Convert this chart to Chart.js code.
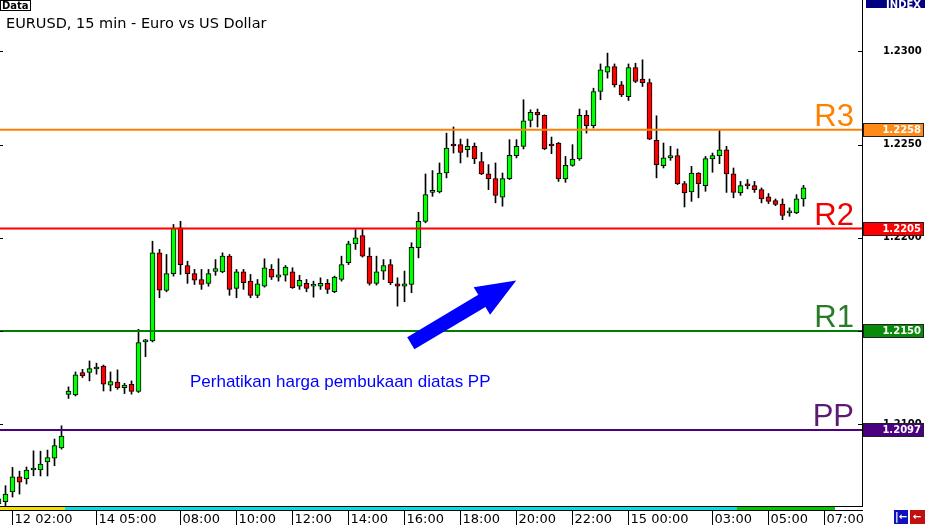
<!DOCTYPE html>
<html>
<head>
<meta charset="utf-8">
<script src="https://cdn.jsdelivr.net/npm/chart.js@4.4.0/dist/chart.umd.min.js"></script>
<style>
    html, body { margin: 0; padding: 0; background: #fff; }
    #wrap { width: 925px; height: 525px; position: relative; }
</style>
</head>
<body>
<div id="wrap"><canvas id="chart" width="925" height="525"></canvas></div>
<script>
// EURUSD 15 min candles, one entry per bar (index 0 is the cut-off bar at the left edge)
const opens = [
    1.20573, 1.20585, 1.20637, 1.20719, 1.20707, 1.20755, 1.20755, 1.20798, 1.20819, 1.20873,
    1.21160, 1.21158, 1.21278, 1.21278, 1.21297, 1.21313, 1.21210, 1.21227, 1.21197, 1.21215,
    1.21176, 1.21442, 1.21447, 1.21920, 1.21718, 1.21808, 1.22054, 1.21852, 1.21808, 1.21777,
    1.21756, 1.21820, 1.21818, 1.21902, 1.21729, 1.21818, 1.21768, 1.21692, 1.21741, 1.21831,
    1.21790, 1.21800, 1.21818, 1.21741, 1.21756, 1.21741, 1.21741, 1.21756, 1.21711, 1.21777,
    1.21867, 1.21968, 1.22013, 1.21902, 1.21756, 1.21822, 1.21857, 1.21754, 1.21741, 1.21750,
    1.21947, 1.22089, 1.22244, 1.22247, 1.22348, 1.22494, 1.22500, 1.22473, 1.22491, 1.22410,
    1.22343, 1.22318, 1.22218, 1.22318, 1.22441, 1.22491, 1.22630, 1.22673, 1.22657, 1.22494,
    1.22509, 1.22316, 1.22389, 1.22423, 1.22657, 1.22602, 1.22785, 1.22889, 1.22919, 1.22821,
    1.22758, 1.22914, 1.22852, 1.22833, 1.22523, 1.22387, 1.22429, 1.22441, 1.22291, 1.22247,
    1.22348, 1.22280, 1.22423, 1.22441, 1.22473, 1.22343, 1.22241, 1.22280, 1.22280, 1.22259,
    1.22220, 1.22200, 1.22182, 1.22134, 1.22134, 1.22209
];
const highs = [
    1.20626, 1.20671, 1.20769, 1.20749, 1.20771, 1.20858, 1.20856, 1.20862, 1.20921, 1.20992,
    1.21201, 1.21281, 1.21295, 1.21340, 1.21328, 1.21318, 1.21281, 1.21292, 1.21220, 1.21233,
    1.21510, 1.21456, 1.21982, 1.21938, 1.21911, 1.22072, 1.22089, 1.21875, 1.21831, 1.21831,
    1.21831, 1.21884, 1.21920, 1.21911, 1.21831, 1.21831, 1.21804, 1.21777, 1.21888, 1.21857,
    1.21888, 1.21852, 1.21840, 1.21799, 1.21777, 1.21768, 1.21786, 1.21777, 1.21795, 1.21902,
    1.21982, 1.22045, 1.22045, 1.21947, 1.21902, 1.21884, 1.21884, 1.21786, 1.21822, 1.21974,
    1.22137, 1.22343, 1.22361, 1.22402, 1.22562, 1.22595, 1.22530, 1.22530, 1.22509, 1.22459,
    1.22393, 1.22402, 1.22348, 1.22527, 1.22527, 1.22741, 1.22687, 1.22691, 1.22660, 1.22541,
    1.22512, 1.22437, 1.22500, 1.22691, 1.22683, 1.22803, 1.22933, 1.22991, 1.22933, 1.22839,
    1.22933, 1.22937, 1.22955, 1.22852, 1.22655, 1.22509, 1.22491, 1.22477, 1.22303, 1.22384,
    1.22350, 1.22437, 1.22455, 1.22576, 1.22491, 1.22375, 1.22303, 1.22313, 1.22303, 1.22268,
    1.22238, 1.22209, 1.22209, 1.22161, 1.22232, 1.22282
];
const lows = [
    1.20562, 1.20564, 1.20610, 1.20626, 1.20680, 1.20724, 1.20723, 1.20723, 1.20778, 1.20867,
    1.21139, 1.21152, 1.21251, 1.21233, 1.21269, 1.21179, 1.21179, 1.21188, 1.21165, 1.21162,
    1.21171, 1.21363, 1.21442, 1.21679, 1.21711, 1.21795, 1.21804, 1.21756, 1.21750, 1.21724,
    1.21741, 1.21799, 1.21813, 1.21692, 1.21679, 1.21724, 1.21679, 1.21679, 1.21736, 1.21777,
    1.21768, 1.21768, 1.21729, 1.21724, 1.21711, 1.21682, 1.21724, 1.21702, 1.21706, 1.21768,
    1.21857, 1.21938, 1.21897, 1.21747, 1.21747, 1.21777, 1.21750, 1.21634, 1.21658, 1.21706,
    1.21893, 1.22081, 1.22223, 1.22241, 1.22322, 1.22455, 1.22402, 1.22434, 1.22398, 1.22339,
    1.22259, 1.22188, 1.22170, 1.22313, 1.22429, 1.22477, 1.22595, 1.22595, 1.22473, 1.22452,
    1.22303, 1.22298, 1.22384, 1.22416, 1.22562, 1.22589, 1.22741, 1.22857, 1.22809, 1.22758,
    1.22737, 1.22833, 1.22812, 1.22527, 1.22322, 1.22375, 1.22416, 1.22286, 1.22166, 1.22196,
    1.22215, 1.22250, 1.22352, 1.22398, 1.22244, 1.22215, 1.22228, 1.22263, 1.22244, 1.22188,
    1.22184, 1.22173, 1.22098, 1.22116, 1.22130, 1.22170
];
const closes = [
    1.20600, 1.20626, 1.20719, 1.20690, 1.20755, 1.20760, 1.20787, 1.20822, 1.20886, 1.20937,
    1.21179, 1.21265, 1.21260, 1.21299, 1.21298, 1.21215, 1.21230, 1.21197, 1.21211, 1.21176,
    1.21438, 1.21443, 1.21920, 1.21720, 1.21808, 1.22052, 1.21857, 1.21808, 1.21773, 1.21750,
    1.21808, 1.21836, 1.21902, 1.21724, 1.21818, 1.21760, 1.21692, 1.21754, 1.21840, 1.21790,
    1.21802, 1.21843, 1.21733, 1.21772, 1.21729, 1.21742, 1.21756, 1.21724, 1.21790, 1.21857,
    1.21968, 1.22000, 1.21902, 1.21756, 1.21818, 1.21852, 1.21760, 1.21741, 1.21754, 1.21950,
    1.22089, 1.22232, 1.22247, 1.22348, 1.22482, 1.22493, 1.22459, 1.22491, 1.22423, 1.22343,
    1.22318, 1.22228, 1.22318, 1.22443, 1.22491, 1.22628, 1.22673, 1.22659, 1.22478, 1.22493,
    1.22316, 1.22389, 1.22423, 1.22657, 1.22602, 1.22785, 1.22901, 1.22919, 1.22821, 1.22767,
    1.22914, 1.22839, 1.22833, 1.22530, 1.22393, 1.22429, 1.22441, 1.22291, 1.22241, 1.22348,
    1.22291, 1.22425, 1.22441, 1.22473, 1.22343, 1.22244, 1.22280, 1.22279, 1.22259, 1.22209,
    1.22196, 1.22179, 1.22120, 1.22136, 1.22209, 1.22268
];

// pivot levels drawn as horizontal lines
const pivotNames = ["R3", "R2", "R1", "PP"];
const pivotLevels = [1.2258, 1.2205, 1.2150, 1.2097];

// bottom time axis: bar index of each separator and its text
const xTickIdx = [2, 14, 26, 34, 42, 50, 58, 66, 74, 82, 90, 102, 110, 118];
const xTickLabels = ["12 02:00", "14 05:00", "08:00", "10:00", "12:00", "14:00", "16:00",
    "18:00", "20:00", "22:00", "15 00:00", "03:00", "05:00", "07:00"];

// session strip under the plot: start/end bar index and colour
const sessionStart = [-1, 9.5, 105.5];
const sessionEnd = [9.5, 105.5, 119.5];

// annotation arrow (bar index, price)
const arrowFrom = [58.9, 1.21435];
const arrowTo = [73.96, 1.21772];

const yMin = 1.20562;
const yMax = 1.23276;
const xMin = 0.2143;
const xMax = 123.357;

const pivotLine = ["#ff8000", "#ff0000", "#008000", "#4b0082"];
const pivotText = ["#ff8000", "#f00000", "#2a7a2a", "#5c1a70"];
const pivotBox = ["#ff8c1a", "#ff0000", "#0a8a0a", "#4b0082"];
const sessionColor = ["#f0e000", "#00e0e8", "#00c800"];
const UP = "#00ff00";
const DOWN = "#ff0000";

const bodies = opens.map((o, i) => ({ x: i, y: [o, closes[i]] }));
const wicks = highs.map((h, i) => ({ x: i, y: [lows[i], h] }));

const datasets = [
    {
        type: "bar",
        data: bodies,
        backgroundColor: opens.map((o, i) => closes[i] >= o ? UP : DOWN),
        borderColor: "#000",
        borderWidth: 1,
        borderSkipped: false,
        barThickness: 5,
        minBarLength: 2,
        grouped: false,
        order: 1
    },
    {
        type: "bar",
        data: wicks,
        backgroundColor: "#000",
        borderWidth: 0,
        barThickness: 1,
        grouped: false,
        order: 2
    }
];

pivotLevels.forEach((lvl, k) => {
    datasets.push({
        type: "line",
        data: [{ x: xMin, y: lvl }, { x: xMax, y: lvl }],
        borderColor: pivotLine[k],
        borderWidth: 2,
        pointRadius: 0,
        order: 0
    });
});

function isMajor(v) {
    const n = v * 200;
    return Math.abs(n - Math.round(n)) < 1e-6;
}

const overlay = {
    id: "overlay",
    afterDraw(chart) {
        const { ctx, chartArea: a, scales: { x, y } } = chart;
        ctx.save();

        // small price ticks on both sides of the plot
        ctx.strokeStyle = "#000";
        ctx.lineWidth = 1;
        ctx.beginPath();
        y.ticks.forEach(t => {
            const py = Math.round(y.getPixelForValue(t.value)) + 0.5;
            ctx.moveTo(a.right - 4, py);
            ctx.lineTo(a.right, py);
            ctx.moveTo(a.left, py);
            ctx.lineTo(a.left + 3, py);
        });
        ctx.stroke();

        // bottom frame and session strip
        const b = Math.round(a.bottom);
        ctx.fillStyle = "#000";
        ctx.fillRect(0, b, a.right + 1, 1);
        sessionStart.forEach((s, k) => {
            const x0 = Math.max(0, Math.round(x.getPixelForValue(s)));
            const x1 = Math.round(x.getPixelForValue(sessionEnd[k]));
            ctx.fillStyle = sessionColor[k];
            ctx.fillRect(x0, b + 1, x1 - x0, 3);
        });
        ctx.fillStyle = "#000";
        ctx.fillRect(0, b + 4, a.right + 1, 1);

        // time labels
        ctx.font = "13px 'DejaVu Sans'";
        ctx.textAlign = "left";
        ctx.textBaseline = "alphabetic";
        xTickIdx.forEach((v, k) => {
            const px = Math.floor(x.getPixelForValue(v)) + 0.5;
            ctx.beginPath();
            ctx.moveTo(px, b + 5);
            ctx.lineTo(px, 525);
            ctx.stroke();
            ctx.fillStyle = "#000";
            ctx.fillText(xTickLabels[k], px + 2, 523);
        });

        // pivot names and price boxes
        pivotLevels.forEach((lvl, k) => {
            const py = y.getPixelForValue(lvl);
            ctx.font = "31px 'Liberation Sans'";
            ctx.textAlign = "right";
            ctx.fillStyle = pivotText[k];
            ctx.fillText(pivotNames[k], a.right - 8, py - 4);

            const top = Math.round(py) - 7;
            ctx.fillStyle = pivotBox[k];
            ctx.fillRect(a.right + 1, top, 925 - a.right - 2, 14);
            ctx.strokeStyle = "#222";
            ctx.strokeRect(a.right + 1.5, top + 0.5, 925 - a.right - 3, 13);
            ctx.fillStyle = "#fff";
            ctx.font = "bold 10px 'DejaVu Sans'";
            ctx.textBaseline = "middle";
            ctx.fillText(lvl.toFixed(4), 921, top + 7.5);
            ctx.textBaseline = "alphabetic";
        });

        // INDEX tag, title, data tag
        ctx.fillStyle = "#000080";
        ctx.fillRect(866, 0, 59, 8);
        ctx.fillStyle = "#fff";
        ctx.font = "bold 10px 'DejaVu Sans'";
        ctx.textAlign = "right";
        ctx.fillText("INDEX", 921, 8);

        ctx.textAlign = "left";
        ctx.fillStyle = "#000";
        ctx.font = "14.5px 'DejaVu Sans'";
        ctx.fillText("EURUSD, 15 min - Euro vs US Dollar", 6, 28);

        ctx.fillStyle = "#fff";
        ctx.fillRect(0, 0, 31, 11);
        ctx.strokeStyle = "#000";
        ctx.strokeRect(0.5, 0.5, 30, 10);
        ctx.fillStyle = "#000";
        ctx.font = "bold 10px 'DejaVu Sans'";
        ctx.fillText("Data", 2, 9);

        // note and arrow
        ctx.fillStyle = "#0000ff";
        ctx.font = "17px 'Liberation Sans'";
        ctx.textBaseline = "middle";
        ctx.fillText("Perhatikan harga pembukaan diatas PP", 190, 382);

        const tx = x.getPixelForValue(arrowFrom[0]), ty = y.getPixelForValue(arrowFrom[1]);
        const hx = x.getPixelForValue(arrowTo[0]), hy = y.getPixelForValue(arrowTo[1]);
        const len = Math.hypot(hx - tx, hy - ty);
        const ux = (hx - tx) / len, uy = (hy - ty) / len;
        const nx = -uy, ny = ux;
        const head = 40, hw = 16, sw = 7;
        const bx = hx - ux * head, by = hy - uy * head;
        ctx.beginPath();
        ctx.moveTo(tx + nx * sw, ty + ny * sw);
        ctx.lineTo(bx + nx * sw, by + ny * sw);
        ctx.lineTo(bx + nx * hw, by + ny * hw);
        ctx.lineTo(hx, hy);
        ctx.lineTo(bx - nx * hw, by - ny * hw);
        ctx.lineTo(bx - nx * sw, by - ny * sw);
        ctx.lineTo(tx - nx * sw, ty - ny * sw);
        ctx.closePath();
        ctx.fill();

        // corner buttons
        ctx.fillStyle = "#1010c0";
        ctx.fillRect(894, 510, 14, 14);
        ctx.fillStyle = "#c01010";
        ctx.fillRect(910, 510, 15, 14);
        ctx.fillStyle = "#fff";
        ctx.font = "bold 10px 'DejaVu Sans'";
        ctx.textAlign = "center";
        ctx.fillText("|\u2190", 901, 517);
        ctx.fillText("\u2190", 917, 517);

        ctx.restore();
    }
};

new Chart(document.getElementById("chart"), {
    type: "bar",
    data: { datasets: datasets },
    options: {
        responsive: false,
        devicePixelRatio: 1,
        animation: false,
        layout: { padding: { left: 0, top: 0, right: 0, bottom: 19 } },
        plugins: {
            legend: { display: false },
            tooltip: { enabled: false }
        },
        scales: {
            x: {
                type: "linear",
                min: xMin,
                max: xMax,
                offset: false,
                display: false
            },
            y: {
                type: "linear",
                position: "right",
                min: yMin,
                max: yMax,
                afterFit: s => {
                    s.width = 63;
                    s.paddingTop = 0;
                    s.paddingBottom = 0;
                },
                grid: { drawOnChartArea: false, drawTicks: false },
                border: { color: "#000", width: 1 },
                ticks: {
                    stepSize: 0.001,
                    includeBounds: false,
                    autoSkip: false,
                    padding: 21,
                    color: "#000",
                    font: { family: "'DejaVu Sans'", size: 10, weight: "bold" },
                    callback: v => isMajor(v) ? v.toFixed(4) : null
                }
            }
        }
    },
    plugins: [overlay]
});
</script>
</body>
</html>
